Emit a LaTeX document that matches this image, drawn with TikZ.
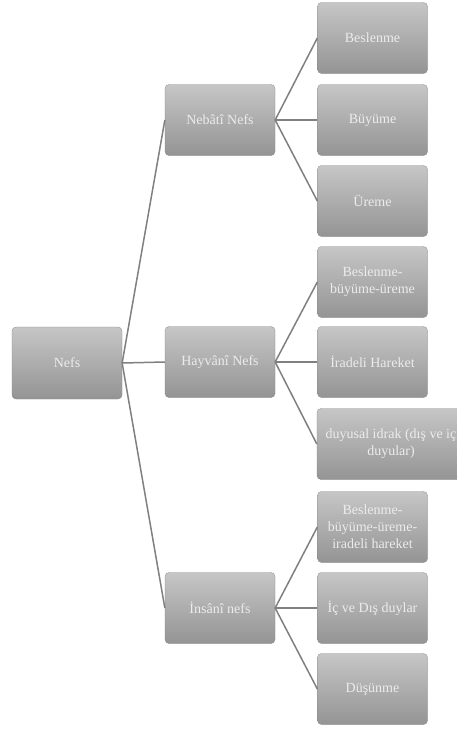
\documentclass[tikz,border=0pt]{standalone}
\usepackage{fontspec}
\setmainfont{Liberation Serif}
\definecolor{boxtop}{RGB}{198,198,198}
\definecolor{boxbot}{RGB}{148,148,148}
\definecolor{boxtxt}{RGB}{236,236,236}
\definecolor{lnkcol}{RGB}{128,128,128}
\begin{document}
\begin{tikzpicture}
  [
    x=1pt, y=-1pt,
    font=\fontsize{14}{17}\selectfont,
    box/.style={rounded corners=4pt, top color=boxtop, bottom color=boxbot,
      draw=boxbot!90!black, line width=0.3pt, text=boxtxt, align=center,
      minimum width=110pt, minimum height=71pt, inner sep=0pt},
    lnk/.style={draw=lnkcol, line width=1.5pt}
  ]
  \useasboundingbox (0,0) rectangle (456,729);
  % root
  \node [box, minimum height=72pt] (nefs) at (67, 363) {Nefs};
  % second level
  \node [box] (nebati)  at (220, 120) {Nebâtî Nefs};
  \node [box] (hayvani) at (220, 362) {Hayvânî Nefs};
  \node [box] (insani)  at (220, 608) {İnsânî nefs};
  % third level
  \node [box] (n1) at (372.5,  38) {Beslenme};
  \node [box] (n2) at (372.5, 120) {Büyüme};
  \node [box] (n3) at (372.5, 201) {Üreme};
  \node [box] (h1) at (372.5, 282) {Beslenme-\\büyüme-üreme};
  \node [box] (h2) at (372.5, 362) {İradeli Hareket};
  \node [box, minimum width=148pt] (h3) at (391, 444) {duyusal idrak (dış ve iç\\duyular)};
  \node [box] (i1) at (372.5, 527) {Beslenme-\\büyüme-üreme-\\iradeli hareket};
  \node [box] (i2) at (372.5, 608) {İç ve Dış duylar};
  \node [box] (i3) at (372.5, 689) {Düşünme};
  % connectors
  \foreach \child in {nebati, hayvani, insani}
    \draw [lnk] (nefs.east) -- (\child.west);
  \foreach \child in {n1, n2, n3}
    \draw [lnk] (nebati.east) -- (\child.west);
  \foreach \child in {h1, h2, h3}
    \draw [lnk] (hayvani.east) -- (\child.west);
  \foreach \child in {i1, i2, i3}
    \draw [lnk] (insani.east) -- (\child.west);
\end{tikzpicture}
\end{document}
